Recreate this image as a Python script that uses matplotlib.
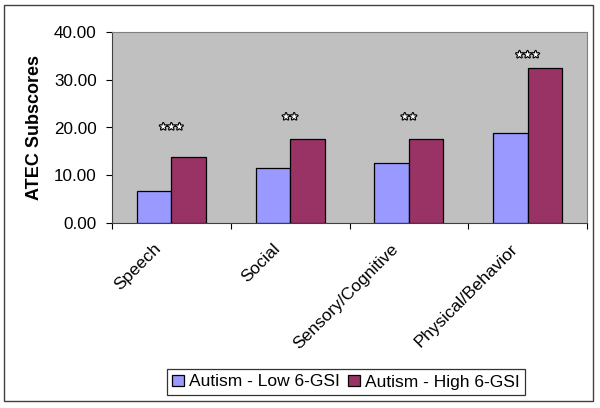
import numpy as np
import matplotlib
matplotlib.use('Agg')
from matplotlib import pyplot as plt
from matplotlib.patches import Rectangle
from matplotlib import patheffects

plt.rcParams['font.family'] = ['Liberation Sans', 'DejaVu Sans']

categories = ['Speech', 'Social', 'Sensory/Cognitive', 'Physical/Behavior']
low_gsi = [6.8, 11.45, 12.6, 18.8]
high_gsi = [13.75, 17.5, 17.5, 32.5]
star_marks = ['\u2605\u2605\u2605', '\u2605\u2605', '\u2605\u2605', '\u2605\u2605\u2605']
star_heights = [20.1, 22.2, 22.2, 35.2]
series_names = ['Autism - Low 6-GSI', 'Autism - High 6-GSI']

fig = plt.figure(figsize=(6, 4.08), dpi=100)
ax = fig.add_axes([112/600, 1 - 223/408, 475/600, 191/408])
ax.set_facecolor('#C0C0C0')

x = np.arange(len(categories))
w = 0.29
ax.bar(x - w/2, low_gsi, w, color='#9999FF', edgecolor='black', linewidth=0.9,
       label=series_names[0], zorder=3)
ax.bar(x + w/2, high_gsi, w, color='#993366', edgecolor='black', linewidth=0.9,
       label=series_names[1], zorder=3)

for xi, s, h in zip(x, star_marks, star_heights):
    ax.text(xi, h, s, ha='center', va='center', fontsize=6.5, color='white',
            family='DejaVu Sans',
            path_effects=[patheffects.withStroke(linewidth=1.6, foreground='black')])

ax.set_xlim(-0.5, len(categories) - 0.5)
ax.set_ylim(0, 40)
ax.set_yticks(np.arange(0, 41, 10))
ax.set_yticklabels(['%.2f' % v for v in np.arange(0, 41, 10)], fontsize=12.3)

# category labels, rotated, sitting a bit left of the group centre
ax.set_xticks(np.arange(-0.5, len(categories)))
ax.set_xticklabels([])
ax.tick_params(axis='x', length=4, direction='out')
for xi, cat in zip(x, categories):
    ax.annotate(cat, xy=(xi, 0), xycoords=('data', 'axes fraction'),
                xytext=(-18, -18), textcoords='offset pixels',
                rotation=45, ha='right', va='top', rotation_mode='anchor',
                fontsize=12.5, annotation_clip=False)

ax.tick_params(axis='y', length=4, direction='out', pad=7)
ax.set_ylabel('ATEC Subscores', fontsize=13, fontweight='bold')
ax.yaxis.set_label_coords(-0.145, 0.5)

for side in ['top', 'right']:
    ax.spines[side].set_color('#808080')
for side in ['left', 'bottom']:
    ax.spines[side].set_color('#404040')

leg = fig.legend(loc='center', bbox_to_anchor=(346/600, 1 - 382/408), ncol=2,
                 fontsize=12.5, frameon=True, fancybox=False, edgecolor='black',
                 handlelength=0.65, handleheight=0.65, handletextpad=0.3,
                 columnspacing=0.5, borderpad=0.3, borderaxespad=0)
leg.get_frame().set_linewidth(0.9)

fig.patches.append(Rectangle((4/600, 1 - 401/408), 589/600, 396/408,
                             transform=fig.transFigure, fill=False,
                             edgecolor='#404040', linewidth=1))

plt.savefig('out.png', dpi=100)
